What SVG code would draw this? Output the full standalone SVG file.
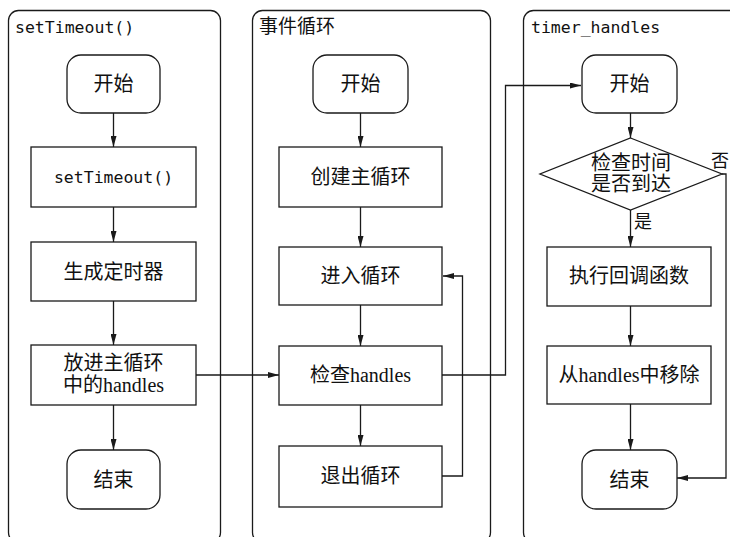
<svg xmlns="http://www.w3.org/2000/svg" width="730" height="537" viewBox="0 0 730 537">
<style>
.lane{fill:none;stroke:#1a1a1a;stroke-width:1.3}
.box{fill:#fff;stroke:#1a1a1a;stroke-width:1.3}
.term{fill:#fff;stroke:#1a1a1a;stroke-width:1.3}
.t{font-family:"Liberation Serif","Noto Sans CJK SC",serif;font-size:20px;fill:#111;text-anchor:middle}
.mono{font-family:"DejaVu Sans Mono","Liberation Mono",monospace;font-size:16.5px;fill:#111}
.cap{font-family:"Noto Sans CJK SC",sans-serif;font-size:19px;fill:#111}
.lbl{font-family:"Noto Sans CJK SC",sans-serif;font-size:18px;fill:#111}
.c{fill:none;stroke:#1a1a1a;stroke-width:1.3;marker-end:url(#ah)}
</style>
<defs>
<marker id="ah" viewBox="0 0 11 6" refX="11" refY="3" markerWidth="11" markerHeight="6" markerUnits="userSpaceOnUse" orient="auto">
<path d="M0,0 L11,3 L0,6 Z" fill="#1a1a1a"/>
</marker>
</defs>
<rect width="730" height="537" fill="#fff"/>
<g id="lane1"><rect class="lane" x="8.5" y="10.5" width="212" height="532" rx="10"/><text class="mono" x="15" y="33" font-size="17">setTimeout()</text></g>
<g id="lane2"><rect class="lane" x="252.5" y="10.5" width="238" height="532" rx="10"/><text class="cap" x="259" y="33">事件循环</text></g>
<g id="lane3"><rect class="lane" x="523.5" y="10.5" width="240" height="532" rx="10"/><text class="mono" x="531" y="33" font-size="17">timer_handles</text></g>

<g id="connectors">
<path class="c" d="M113.5,113 V147"/>
<path class="c" d="M113.5,207 V242"/>
<path class="c" d="M113.5,301 V345"/>
<path class="c" d="M113.5,405 V450"/>
<path class="c" d="M196,375 H279"/>
<path class="c" d="M360.5,113 V147"/>
<path class="c" d="M360.5,207 V247"/>
<path class="c" d="M360.5,305 V346"/>
<path class="c" d="M360.5,405 V446"/>
<path class="c" d="M442,476 H462.5 V276 H443"/>
<path class="c" d="M442,375 H505.5 V85.5 H581"/>
<path class="c" d="M630.5,113 V138"/>
<path class="c" d="M630.5,210 V247"/>
<path class="c" d="M630.5,306 V346"/>
<path class="c" d="M630.5,404 V450"/>
<path class="c" d="M722,174 H726 V478 H677"/>
<text class="lbl" x="634" y="228">是</text>
<text class="lbl" x="711" y="167">否</text>
</g>

<g id="n1_start"><rect class="term" x="67" y="55" width="93" height="58" rx="14"/><text class="t" x="113.5" y="91">开始</text></g>
<g id="n1_settimeout"><rect class="box" x="31" y="147" width="165" height="60"/><text class="mono" x="113.5" y="183" text-anchor="middle">setTimeout()</text></g>
<g id="n1_timer"><rect class="box" x="31" y="242" width="165" height="59"/><text class="t" x="113.5" y="279">生成定时器</text></g>
<g id="n1_put"><rect class="box" x="31" y="345" width="165" height="60"/><text class="t" x="113.5" y="370">放进主循环</text><text class="t" x="113.5" y="392">中的handles</text></g>
<g id="n1_end"><rect class="term" x="67" y="450" width="93" height="59" rx="14"/><text class="t" x="113.5" y="487">结束</text></g>

<g id="n2_start"><rect class="term" x="313" y="55" width="95" height="58" rx="14"/><text class="t" x="360.5" y="91">开始</text></g>
<g id="n2_create"><rect class="box" x="279" y="147" width="163" height="60"/><text class="t" x="360.5" y="184">创建主循环</text></g>
<g id="n2_enter"><rect class="box" x="279" y="247" width="163" height="58"/><text class="t" x="360.5" y="283">进入循环</text></g>
<g id="n2_check"><rect class="box" x="279" y="346" width="163" height="59"/><text class="t" x="360.5" y="382">检查handles</text></g>
<g id="n2_exit"><rect class="box" x="279" y="446" width="163" height="61"/><text class="t" x="360.5" y="483">退出循环</text></g>

<g id="n3_start"><rect class="term" x="582" y="55" width="95" height="58" rx="14"/><text class="t" x="629.5" y="91">开始</text></g>
<g id="n3_decide"><polygon class="box" points="630.5,138 722,174 630.5,210 540,174"/><text class="t" x="631" y="170">检查时间</text><text class="t" x="631" y="191">是否到达</text></g>
<g id="n3_exec"><rect class="box" x="547" y="247" width="164" height="59"/><text class="t" x="629" y="283">执行回调函数</text></g>
<g id="n3_remove"><rect class="box" x="547" y="346" width="164" height="58"/><text class="t" x="629" y="382">从handles中移除</text></g>
<g id="n3_end"><rect class="term" x="582" y="450" width="95" height="59" rx="14"/><text class="t" x="629.5" y="487">结束</text></g>
</svg>
